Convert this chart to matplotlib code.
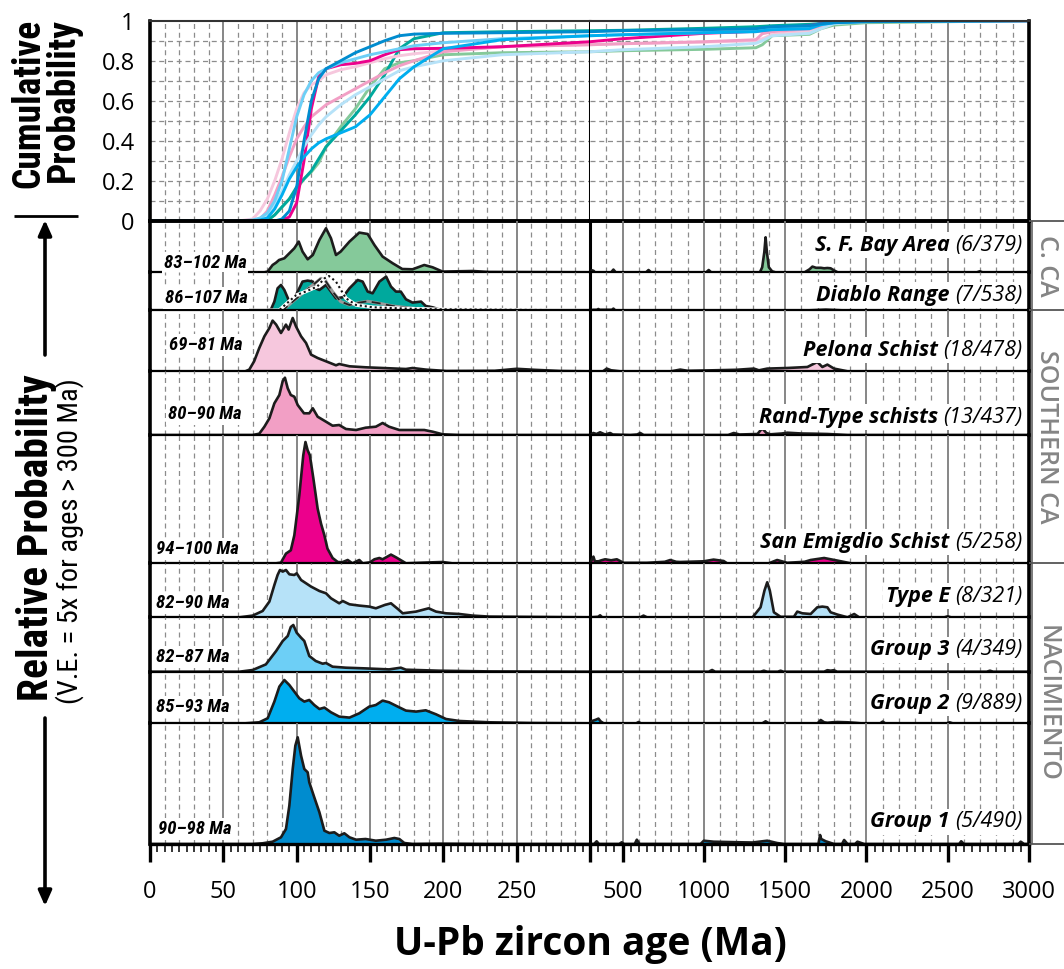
import numpy as np
import matplotlib
matplotlib.use("Agg")
import matplotlib.pyplot as plt
from matplotlib import font_manager
from matplotlib.ticker import FixedLocator, MultipleLocator, NullFormatter

# ---------------------------------------------------------------
# data
# ---------------------------------------------------------------
groups = ["S. F. Bay Area", "Diablo Range", "Pelona Schist", "Rand-Type schists",
          "San Emigdio Schist", "Type E", "Group 3", "Group 2", "Group 1"]
counts = ["(6/379)", "(7/538)", "(18/478)", "(13/437)", "(5/258)",
          "(8/321)", "(4/349)", "(9/889)", "(5/490)"]
mda_labels = ["83–102 Ma", "86–107 Ma", "69–81 Ma", "80–90 Ma", "94–100 Ma",
              "82–90 Ma", "82–87 Ma", "85–93 Ma", "90–98 Ma"]
colors = ["#85c99a", "#00a99d", "#f6c7dd", "#f29fc5", "#ec008c",
          "#b6e2f8", "#6dcff6", "#00aeef", "#008ccf"]
regions = ["C. CA", "SOUTHERN CA", "NACIMIENTO"]
region_rows = [(0, 1), (2, 4), (5, 8)]

# relative probability (same arbitrary unit in every row; ages > 300 Ma shown 5x)
sf_age = [0, 78, 80.2, 83.6, 86, 88, 91.6, 95, 98.4, 101.4, 104, 107.5, 111, 115.5, 120, 123.4,
          126.8, 130, 136, 142.7, 148.4, 153, 158.6, 165.5, 172, 179, 187, 192.7, 199.5, 220, 231, 298,
          305, 312, 322, 330, 430, 444, 458, 645, 660, 675, 1015, 1030, 1045, 1345, 1359, 1372,
          1380, 1388, 1400, 1420, 1440, 1620, 1650, 1668, 1690, 1720, 1740, 1760, 1780, 1800, 1823,
          2680, 2697, 2714, 3000]
sf_prob = [0, 0, 0.7, 7.3, 9.7, 12.3, 14, 19, 24, 30.7, 20.7, 13, 17.3, 32.3, 44, 34,
           17.3, 20.7, 30.7, 39.7, 38.3, 27.3, 15.7, 9, 3.3, 3, 7.3, 5, 0.7, 1.3, 0.3, 0,
           0, 2, 1.5, 0, 0, 2.7, 0, 0, 2.3, 0, 0, 2.3, 0, 0, 5, 20,
           35, 20, 5, 1, 0, 0, 3, 5.7, 4.5, 4.5, 4, 4.3, 4, 2, 0,
           0, 1, 0, 0]

diablo_age = [0, 80, 82.5, 84.8, 87, 89.3, 91.6, 95, 98.4, 101.8, 104, 107.5, 111, 112.7, 115.5,
              120, 123.4, 126.8, 131.4, 136, 141.6, 145, 148.4, 151.8, 156.4, 161, 164.3, 167.7,
              171, 174.5, 179, 184.8, 188, 192.7, 197, 215, 224, 298,
              305, 320, 345, 351, 360, 435, 444, 455, 1650, 1750, 1850, 3000]
diablo_prob = [0, 0, 1, 8.7, 22, 25.3, 20.3, 8.7, 12, 22, 28.7, 29.7, 28.7, 22, 20.3,
               25.3, 18.7, 12, 13, 22, 30.3, 28.7, 18.7, 17, 28.7, 33.7, 23.7, 18.7,
               18.7, 11, 7.7, 8.7, 4.3, 3, 1, 1, 0, 0,
               0, 0.5, 0.5, 1.3, 0.5, 0.5, 1.7, 0, 0, 0.7, 0, 0]
# component curves drawn over the Diablo Range PDP
diablo_dot_age = [0, 88, 99.5, 106, 114, 119, 122, 126.8, 133.6, 140.5, 152, 175, 197, 300]
diablo_dot_prob = [0, 0, 15, 18.7, 23.7, 32, 34.3, 28.7, 12, 5.3, 3, 1.7, 1, 0]
diablo_dash_age = [0, 90.5, 97.3, 104, 111, 116.6, 120, 124.5, 130, 136, 142.7, 148.4, 156.4,
                   165.5, 179, 197, 300]
diablo_dash_prob = [0, 0, 8.7, 17, 25.3, 32, 28.7, 18.7, 8.7, 5.3, 7.7, 9, 7, 4.3, 2, 0, 0]

pelona_age = [0, 65, 67.7, 71, 74.5, 78, 81.4, 83.6, 86, 89.3, 92.7, 94.5, 97.3, 99.5, 103, 106.4,
              109.8, 114.3, 120, 126.8, 129, 136, 147, 158.6, 174.5, 179, 188, 202, 235, 250, 262,
              280, 298,
              305, 380, 403, 430, 485, 800, 855, 900, 1060, 1200, 1308, 1339, 1390, 1513, 1637,
              1698, 1729, 1760, 1801, 1884, 3000]
pelona_prob = [0, 0, 1.7, 10, 23.3, 35, 43.3, 50.7, 46.7, 38.3, 46.7, 41.7, 53.3, 45, 35, 28.3,
               16.7, 13.3, 10, 6, 7.3, 5, 4, 3.3, 2.3, 3.3, 1.7, 0.3, 0.5, 2.5, 1.5,
               0.3, 0,
               0, 0, 2.7, 1, 0, 0, 1.7, 0.5, 1, 1.5, 2.7, 1, 2.7, 3.3, 4.3,
               9.3, 4.3, 6.7, 2.7, 0, 0]

rand_age = [0, 70, 74.5, 78, 81.4, 84.8, 88.2, 90.5, 92, 93.9, 96, 98.4, 100.7, 105, 108.6, 111,
            114.3, 120, 124.5, 129, 133.6, 140.5, 147, 154, 158.6, 163, 170, 179, 187, 192.7,
            199.5, 211, 298,
            305, 320, 340, 362, 393, 424, 440, 547, 590, 609, 630, 1150, 1184, 1220, 1330, 1359,
            1385, 1410, 1480, 1513, 1600, 1678, 1760, 1884, 3000]
rand_prob = [0, 0, 1.3, 8.3, 16.7, 31.7, 40, 54, 57.3, 46.7, 40, 38.3, 30, 21.7, 21.7, 26.7,
             18.3, 13.3, 9.3, 10, 6, 5, 7.3, 8.3, 12, 8.3, 5, 5, 5, 3.3,
             0.7, 0, 0,
             0, 2, 1, 2.7, 0.5, 2, 0.5, 0, 0.5, 2, 0, 0, 2, 0.5, 1, 6.7,
             2, 0.7, 1.5, 2.3, 1.5, 1.3, 1, 0, 0]

emigdio_age = [0, 86, 89.3, 92.7, 96, 98.4, 101.8, 104.5, 106, 107.5, 109, 111.4, 114.3, 116.6,
               118.9, 121, 124.5, 128, 131, 134.8, 138, 142.7, 145, 150, 153, 156.4, 158.6, 164.3,
               167.7, 172.3, 174.5, 187, 199.5, 206, 298,
               302, 310, 321, 330, 352, 370, 393, 430, 465, 506, 650, 760, 794, 830, 855, 1000,
               1060, 1122, 1143, 1400, 1451, 1513, 1620, 1657, 1740, 1822, 1904, 3000]
emigdio_prob = [0, 0, 0.7, 9.7, 13, 28, 68, 108, 121.3, 113, 108, 84.7, 54.7, 39.7,
                28, 14.7, 5.3, 1.3, 1, 3.3, 0, 3.3, 0, 1, 4, 5.3, 4, 8.7,
                6, 2, 0, 0.7, 1.3, 0, 0,
                0, 3, 6.7, 2, 2, 3, 4, 3, 4, 0.5, 0.5, 1.5, 3.3, 1.5, 1.3, 2,
                3.7, 2.3, 0, 0, 3.3, 0.5, 1.5, 3.3, 5.3, 2.7, 0, 0]

type_e_age = [0, 61, 70, 76.8, 81.4, 84.8, 87, 88.6, 90.5, 92.7, 95, 98.4, 100, 103, 106.4, 109.8,
              115.5, 120, 123.4, 129, 131.4, 136, 142.7, 149.5, 154, 160, 164.3, 169, 172.3,
              181.4, 190, 195, 201.8, 210.9, 220, 231.4, 270, 298,
              305, 350, 362, 375, 610, 629, 650, 1300, 1349, 1373, 1390, 1406, 1431, 1472, 1554,
              1575, 1606, 1657, 1698, 1729, 1760, 1780, 1822, 1884, 1925, 1955, 2480, 2500, 2520,
              3000]
type_e_prob = [0, 0, 1.7, 6.3, 15.7, 32.3, 42.3, 47.3, 45.7, 47.3, 43, 42.3, 44, 37.3, 34, 30.7,
               26.3, 24, 19, 14, 16.3, 13, 11.7, 10.7, 9, 12.3, 14, 8.3, 4,
               5.7, 9, 5.7, 4, 3.3, 1.7, 0.7, 0.3, 0,
               0, 0.5, 2, 0, 0, 1.7, 0, 0, 10, 26.7, 35, 26.7, 5, 0.5, 0.5,
               5.7, 4, 3.3, 10, 10.7, 10, 5, 2.7, 0, 3.3, 0, 0, 1, 0,
               0]

group3_age = [0, 61, 70, 79, 86, 90.5, 93.9, 96, 97.7, 100, 103, 105.2, 108.6, 113, 117.7, 120,
              124.5, 133.6, 147, 163, 171, 174.5, 197, 231, 298,
              305, 1030, 1051, 1070, 1350, 1369, 1390, 1455, 1472, 1490, 1740, 1760, 1780, 1800,
              1820, 2740, 2760, 2780, 3000]
group3_prob = [0, 0, 1.7, 7.3, 20.7, 30.7, 35.7, 44.7, 46.7, 39, 34, 30.7, 15.7, 10.7, 8, 8.7,
               5, 4, 3.3, 2.3, 4, 2, 1, 0.3, 0,
               0, 0, 1.7, 0, 0, 1, 0, 0, 1, 0, 0, 1.5, 1, 1.5,
               0, 0, 1, 0, 0]

group2_age = [0, 65, 74.5, 80.2, 84.8, 88.2, 91.6, 95, 98.4, 101.8, 105.2, 108.6, 112, 115.5,
              118.9, 123.4, 129, 136, 142.7, 149.5, 154, 158.6, 163, 168.9, 174.5, 181.4, 188, 195,
              201.8, 211, 231.4, 260, 298,
              302, 310, 320, 335, 352, 365, 383, 585, 599, 612, 1360, 1380, 1400, 1700, 1719,
              1740, 1760, 1790, 1822, 1884, 1930, 1966, 2085, 2100, 2115, 2495, 2511, 2530, 3000]
group2_prob = [0, 0, 1, 5, 21.7, 36.7, 43.3, 38.3, 31.7, 25, 21.7, 23.3, 18.3, 14.3,
               15.7, 11, 6.7, 5.7, 10, 16.7, 18.3, 22.7, 21, 16.7, 12.7, 11.7, 13, 9,
               4.3, 2.3, 1, 0.3, 0,
               0, 2, 2.7, 3.5, 4.7, 2, 0, 0, 1.3, 0, 0, 2, 0, 0, 3.3,
               1, 0.5, 1, 1.3, 1, 0.5, 0, 0, 1.7, 0, 0, 1, 0, 0]

group1_age = [0, 70, 76.8, 83.6, 89.3, 92.7, 95, 97.3, 99.1, 100.7, 103, 105.2, 107.5, 108.6, 112,
              115.5, 118.9, 122.3, 125.7, 129, 132.5, 136, 140.5, 147, 154, 161, 166.6, 170,
              173.4, 179, 197, 230, 298,
              305, 325, 341, 355, 480, 495, 510, 575, 588, 605, 980, 1000, 1060, 1225, 1300,
              1390, 1450, 1493, 1705, 1715, 1722, 1750, 1801, 1850, 1863, 1884, 1930, 1945, 1986,
              2570, 2583, 2600, 2935, 2949, 2970, 3000]
group1_prob = [0, 0, 0.7, 2.3, 6.7, 15, 38.3, 75, 98.3, 106.7, 88.3, 75, 71.7, 61.7, 46.7,
               31.7, 13.3, 11, 11.7, 8.3, 10.7, 6.7, 4.3, 5, 3.3, 4.3, 6, 5,
               1, 0, 0.3, 0, 0,
               0, 0, 2.7, 0, 0, 1.7, 0, 0, 4.3, 0, 0, 3.3, 2.3, 1.7, 1.5,
               3.3, 1, 0, 0, 9, 5, 2.7, 0, 0, 4, 0, 0, 2.3, 0,
               0, 2.7, 0, 0, 2.3, 0, 0]

# cumulative probability curves
cdf_age = [0, 60, 70, 75, 80, 85, 90, 95, 100, 105, 110, 115, 120, 130, 140, 150, 160, 170, 180,
           200, 240, 300, 500, 1000, 1320, 1360, 1420, 1650, 1720, 1800, 2000, 3000]
sf_cdf = [0, 0, 0, 0, 0.003, 0.03, 0.07, 0.11, 0.16, 0.21, 0.245, 0.29, 0.37, 0.47, 0.56, 0.67,
          0.76, 0.79, 0.80, 0.83, 0.84, 0.845, 0.85, 0.857, 0.865, 0.88, 0.925, 0.932, 0.96,
          0.978, 0.99, 1.0]
diablo_cdf = [0, 0, 0, 0, 0.002, 0.03, 0.07, 0.11, 0.17, 0.21, 0.25, 0.31, 0.37, 0.45, 0.53,
              0.62, 0.73, 0.86, 0.91, 0.94, 0.945, 0.95, 0.952, 0.962, 0.97, 0.972, 0.975, 0.982,
              0.986, 0.99, 0.997, 1.0]
pelona_cdf = [0, 0, 0.01, 0.05, 0.11, 0.2, 0.31, 0.44, 0.56, 0.64, 0.68, 0.70, 0.73, 0.755, 0.77,
              0.79, 0.81, 0.825, 0.835, 0.85, 0.87, 0.88, 0.885, 0.893, 0.90, 0.91, 0.93, 0.95,
              0.975, 0.99, 0.998, 1.0]
rand_cdf = [0, 0, 0, 0.01, 0.05, 0.13, 0.22, 0.32, 0.41, 0.47, 0.52, 0.55, 0.58, 0.62, 0.66, 0.70,
            0.74, 0.775, 0.80, 0.845, 0.87, 0.88, 0.885, 0.895, 0.905, 0.935, 0.945, 0.96, 0.975,
            0.99, 0.997, 1.0]
emigdio_cdf = [0, 0, 0, 0, 0, 0, 0.005, 0.02, 0.09, 0.30, 0.56, 0.72, 0.76, 0.78, 0.787, 0.80,
               0.83, 0.855, 0.86, 0.862, 0.87, 0.895, 0.91, 0.937, 0.947, 0.95, 0.958, 0.975,
               0.985, 0.99, 0.998, 1.0]
type_e_cdf = [0, 0, 0.003, 0.01, 0.03, 0.08, 0.15, 0.23, 0.30, 0.37, 0.43, 0.48, 0.52, 0.58, 0.63,
              0.67, 0.71, 0.75, 0.77, 0.80, 0.83, 0.845, 0.855, 0.87, 0.887, 0.90, 0.925, 0.937,
              0.96, 0.985, 0.995, 1.0]
group3_cdf = [0, 0, 0.005, 0.015, 0.04, 0.10, 0.20, 0.36, 0.52, 0.63, 0.70, 0.74, 0.76, 0.79,
              0.81, 0.83, 0.845, 0.86, 0.875, 0.89, 0.91, 0.925, 0.93, 0.94, 0.95, 0.955, 0.96,
              0.97, 0.98, 0.99, 0.997, 1.0]
group2_cdf = [0, 0, 0, 0.005, 0.015, 0.06, 0.13, 0.21, 0.27, 0.32, 0.36, 0.39, 0.41, 0.44, 0.47,
              0.53, 0.62, 0.71, 0.77, 0.86, 0.905, 0.925, 0.93, 0.94, 0.945, 0.95, 0.955, 0.96,
              0.98, 0.99, 0.997, 1.0]
group1_cdf = [0, 0, 0, 0, 0, 0, 0.01, 0.05, 0.17, 0.40, 0.60, 0.71, 0.76, 0.80, 0.84, 0.87, 0.90,
              0.925, 0.933, 0.937, 0.94, 0.945, 0.95, 0.955, 0.96, 0.965, 0.97, 0.975, 0.985,
              0.99, 0.995, 1.0]

pdp_ages = [sf_age, diablo_age, pelona_age, rand_age, emigdio_age, type_e_age,
            group3_age, group2_age, group1_age]
pdp_probs = [sf_prob, diablo_prob, pelona_prob, rand_prob, emigdio_prob, type_e_prob,
             group3_prob, group2_prob, group1_prob]
cdfs = [sf_cdf, diablo_cdf, pelona_cdf, rand_cdf, emigdio_cdf, type_e_cdf,
        group3_cdf, group2_cdf, group1_cdf]

# vertical room of each row, same unit as the probabilities
row_span = [51.3, 38, 61, 63.7, 128.3, 54, 54.4, 51.6, 120.7]

# ---------------------------------------------------------------
# fonts
# ---------------------------------------------------------------
available = {f.name for f in font_manager.fontManager.ttflist}


def pick(*names):
    for n in names:
        if n in available:
            return n
    return "DejaVu Sans"


sans = pick("Open Sans", "Lato", "DejaVu Sans")
narrow = pick("Liberation Sans Narrow", "Roboto Condensed", sans)
plt.rcParams["font.family"] = [sans, "DejaVu Sans"]

# ---------------------------------------------------------------
# layout (pixel frame of the reference)
# ---------------------------------------------------------------
W, H = 1064, 969
X0, XB, X1 = 150, 590, 1029      # left edge, 300 Ma break, right edge
Y_TOP, Y_CUM, Y_BOT = 20.7, 221, 844

fig = plt.figure(figsize=(W / 100, H / 100), dpi=100)


def px_axes(x0, y0, x1, y1):
    return fig.add_axes([x0 / W, 1 - y1 / H, (x1 - x0) / W, (y1 - y0) / H])


def draw_grid(ax, young, horizontal=False):
    tr = ax.get_xaxis_transform()
    if young:
        solid = list(range(50, 300, 50))
        dashed = [a for a in range(10, 300, 10) if a % 50]
    else:
        solid = list(range(500, 3000, 500))
        dashed = [a for a in range(400, 3000, 100) if a % 500]
    ax.vlines(dashed, 0, 1, transform=tr, colors="#8c8c8c", lw=0.9,
              linestyles=(0, (4, 3)), zorder=0)
    ax.vlines(solid, 0, 1, transform=tr, colors="#7d7d7d", lw=1.3, zorder=0)
    if horizontal:
        ax.hlines(np.arange(0.1, 1.0, 0.1), 0, 1, transform=ax.get_yaxis_transform(),
                  colors="#8c8c8c", lw=0.9, linestyles=(0, (4, 3)), zorder=0)


def style_spines(ax, young, top_lw=0, bottom_lw=1.6):
    ax.spines["top"].set_visible(top_lw > 0)
    ax.spines["top"].set_linewidth(top_lw)
    ax.spines["top"].set_color("#333333")
    ax.spines["bottom"].set_linewidth(bottom_lw)
    if young:
        ax.spines["left"].set_linewidth(2.6)
        ax.spines["right"].set_linewidth(2.2)
    else:
        ax.spines["left"].set_visible(False)
        ax.spines["right"].set_linewidth(2.6)
    for s in ax.spines.values():
        s.set_zorder(6)


# ---------------------------------------------------------------
# cumulative probability panel
# ---------------------------------------------------------------
cum_axes = [px_axes(X0, Y_TOP, XB, Y_CUM), px_axes(XB, Y_TOP, X1, Y_CUM)]
for k, ax in enumerate(cum_axes):
    young = k == 0
    ax.set_xlim((0, 300) if young else (300, 3000))
    ax.set_ylim(0, 1)
    draw_grid(ax, young, horizontal=True)
    style_spines(ax, young, top_lw=1.5, bottom_lw=2.8)
    for cdf, col in zip(cdfs, colors):
        ax.plot(cdf_age, cdf, color=col, lw=2.1, zorder=3, solid_capstyle="round")
    ax.set_xticks([])
    if young:
        ax.set_yticks([0, 0.2, 0.4, 0.6, 0.8, 1.0])
        ax.set_yticklabels(["0", "0.2", "0.4", "0.6", "0.8", "1"])
        ax.tick_params(axis="y", length=0, pad=11, labelsize=17)
    else:
        ax.set_yticks([])

# ---------------------------------------------------------------
# probability density rows
# ---------------------------------------------------------------
tops = np.concatenate([[Y_CUM], Y_CUM + np.cumsum(row_span[:-1])])
label_dy = [27, 15, 21, 18, 21, 21, 22, 20, 22]
mda_dy = [9, 12, 26, 21, 14, 14, 15, 16, 15]
mda_dx = [55, 56, 56, 55, 47, 43, 43, 43, 45]

for i in range(len(groups)):
    y0 = tops[i]
    y1 = y0 + row_span[i]
    last = i == len(groups) - 1
    pair = [px_axes(X0, y0, XB, y1), px_axes(XB, y0, X1, y1)]
    for k, ax in enumerate(pair):
        young = k == 0
        ax.set_xlim((0, 300) if young else (300, 3000))
        ax.set_ylim(0, row_span[i])
        ax.patch.set_alpha(0)
        draw_grid(ax, young)
        style_spines(ax, young, bottom_lw=2.4 if last else 1.6)
        ax.fill_between(pdp_ages[i], pdp_probs[i], 0, color=colors[i], lw=0, zorder=2)
        ax.plot(pdp_ages[i], pdp_probs[i], color="#1c1c1c", lw=1.9, zorder=3)
        ax.set_yticks([])
        if young and i == 1:
            ax.plot(diablo_dash_age, diablo_dash_prob, color="#9a9a9a", lw=2.2, zorder=4)
            ax.plot(diablo_dash_age, diablo_dash_prob, color="#222222", lw=1.3,
                    ls=(0, (5, 3)), zorder=4)
            ax.plot(diablo_dot_age, diablo_dot_prob, color="white", lw=2.6, zorder=4)
            ax.plot(diablo_dot_age, diablo_dot_prob, color="#111111", lw=1.5,
                    ls=(0, (1, 1.4)), zorder=4)
        if last:
            if young:
                ax.xaxis.set_major_locator(FixedLocator(list(range(0, 301, 50))))
                ax.set_xticklabels(["0", "50", "100", "150", "200", "250", ""])
                ax.xaxis.set_minor_locator(MultipleLocator(5))
            else:
                ax.xaxis.set_major_locator(FixedLocator(list(range(500, 3001, 500))))
                ax.set_xticklabels(["500", "1000", "1500", "2000", "2500", "3000"])
                ax.xaxis.set_minor_locator(FixedLocator(list(range(350, 3000, 50))))
            ax.xaxis.set_minor_formatter(NullFormatter())
            ax.tick_params(axis="x", which="major", length=13, width=2.4, pad=13,
                           labelsize=17, direction="out")
            ax.tick_params(axis="x", which="minor", length=6, width=1.1, direction="out")
        else:
            ax.set_xticks([])

    # group name (bold italic) + sample counts (italic), right aligned
    cnt = pair[1].annotate(counts[i], xy=(1, 0), xycoords="axes fraction",
                           xytext=(-7, label_dy[i]), textcoords="offset pixels",
                           ha="right", va="center", fontsize=15.5, style="italic",
                           bbox=dict(boxstyle="square,pad=0.12", fc="white", ec="none"),
                           zorder=7)
    pair[1].annotate(groups[i], xy=(0, 0.5), xycoords=cnt, xytext=(-5, 0),
                     textcoords="offset pixels", ha="right", va="center", fontsize=15.5,
                     style="italic", weight="bold",
                     bbox=dict(boxstyle="square,pad=0.12", fc="white", ec="none"), zorder=7)
    # maximum depositional age
    pair[0].annotate(mda_labels[i], xy=(0, 0), xycoords="axes fraction",
                     xytext=(mda_dx[i], mda_dy[i]), textcoords="offset pixels",
                     ha="center", va="center", fontsize=13.5, style="italic", weight="bold",
                     family=[narrow, "DejaVu Sans"],
                     bbox=dict(boxstyle="square,pad=0.1", fc="white", ec="none"), zorder=7)

# ---------------------------------------------------------------
# overlay: side boxes, axis titles, arrows
# ---------------------------------------------------------------
ov = fig.add_axes([0, 0, 1, 1], zorder=10)
ov.set_xlim(0, W)
ov.set_ylim(H, 0)
ov.axis("off")

box_lines = [Y_CUM] + [tops[b] + row_span[b] for _, b in region_rows]
ov.vlines(X1 + 3, Y_CUM, Y_BOT, colors="#6e6e6e", lw=1.3)
ov.hlines(box_lines, X1, W, colors="#555555", lw=1.3)
for name, (a, b) in zip(regions, region_rows):
    yc = (tops[a] + tops[b] + row_span[b]) / 2
    ov.text(1047, yc, name, rotation=-90, ha="center", va="center", fontsize=18,
            color="#858585", weight="semibold")

fig.text(XB / W, 1 - 944 / H, "U-Pb zircon age (Ma)", ha="center", va="center",
         fontsize=28, weight="bold")

ov.text(46, 103, "Cumulative\nProbability", rotation=90, ha="center", va="center",
        fontsize=27, weight="bold", family=[narrow, "DejaVu Sans"], linespacing=0.9,
        multialignment="right")
ov.hlines(216, 14, 78, colors="black", lw=2)
ov.annotate("", xy=(45, 220), xytext=(45, 355),
            arrowprops=dict(arrowstyle="-|>,head_length=0.9,head_width=0.4", lw=2.6,
                            color="black", shrinkA=0, shrinkB=0))
ov.text(37, 538, "Relative Probability", rotation=90, ha="center", va="center",
        fontsize=30, weight="bold", family=[narrow, "DejaVu Sans"])
ov.text(70, 541, "(V.E. = 5x for ages > 300 Ma)", rotation=90, ha="center", va="center",
        fontsize=20.5, family=[narrow, "DejaVu Sans"])
ov.annotate("", xy=(45, 906), xytext=(45, 718),
            arrowprops=dict(arrowstyle="-|>,head_length=0.9,head_width=0.4", lw=2.6,
                            color="black", shrinkA=0, shrinkB=0))

fig.savefig("out.png", dpi=100)
